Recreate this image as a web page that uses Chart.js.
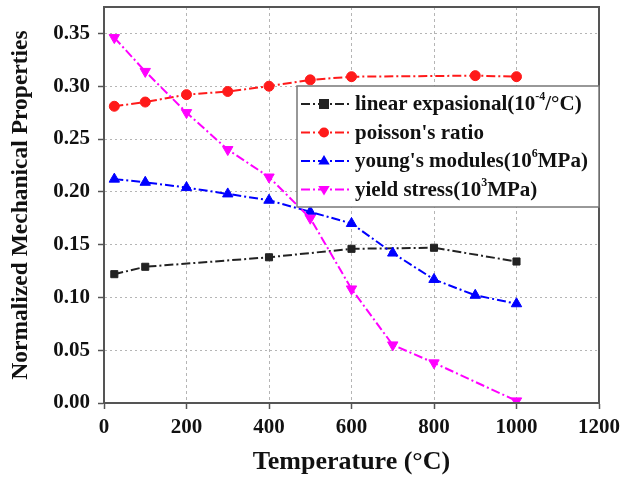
<!DOCTYPE html>
<html>
<head>
<meta charset="utf-8">
<script src="https://cdn.jsdelivr.net/npm/chart.js@4/dist/chart.umd.min.js"></script>
<style>
  html, body { margin: 0; padding: 0; background: #fff; }
  #wrap { width: 622px; height: 483px; }
</style>
</head>
<body>
<div id="wrap"><canvas id="chart" width="622" height="483"></canvas></div>
<script>
// axis ticks
const xTicks = [0, 200, 400, 600, 800, 1000, 1200];
const yTicks = [0, 0.05, 0.10, 0.15, 0.20, 0.25, 0.30, 0.35];

// linear expansion (10^-4 /°C)
const expTemp = [25, 100, 400, 600, 800, 1000];
const expVals = [0.122, 0.129, 0.138, 0.146, 0.147, 0.134];

// poisson's ratio
const poisTemp = [25, 100, 200, 300, 400, 500, 600, 900, 1000];
const poisVals = [0.281, 0.285, 0.292, 0.295, 0.300, 0.306, 0.309, 0.310, 0.309];

// young's modulus (10^6 MPa)
const youngTemp = [25, 100, 200, 300, 400, 500, 600, 700, 800, 900, 1000];
const youngVals = [0.212, 0.209, 0.204, 0.198, 0.192, 0.181, 0.170, 0.142, 0.117, 0.102, 0.094];

// yield stress (10^3 MPa)
const yieldTemp = [25, 100, 200, 300, 400, 500, 600, 700, 800, 1000];
const yieldVals = [0.346, 0.314, 0.275, 0.240, 0.214, 0.175, 0.108, 0.055, 0.038, 0.002];

// legend text, split so exponents can be raised
const legendLabels = [
  [['linear expasional(10', false], ['-4', true], ['/°C)', false]],
  [["poisson's ratio", false]],
  [["young's modules(10", false], ['6', true], ['MPa)', false]],
  [['yield stress(10', false], ['3', true], ['MPa)', false]]
];

const SERIF = '"Liberation Serif", "Times New Roman", serif';
const dashDot = [9, 3, 2, 3];

function pts(xs, ys) {
  return xs.map((x, i) => ({ x: x, y: ys[i] }));
}

function series(data, color, style, radius, rotation, order) {
  return {
    data: data,
    borderColor: color,
    backgroundColor: color,
    borderWidth: 2,
    borderDash: dashDot,
    pointStyle: style,
    pointRadius: radius,
    pointRotation: rotation,
    pointBorderWidth: 1,
    pointBorderColor: color,
    pointBackgroundColor: color,
    tension: 0,
    fill: false,
    order: order
  };
}

const datasets = [
  series(pts(expTemp, expVals), '#222222', 'rect', 5, 0, 4),
  series(pts(poisTemp, poisVals), '#ff1a1a', 'circle', 5, 0, 3),
  series(pts(youngTemp, youngVals), '#0000ff', 'triangle', 6, 0, 2),
  series(pts(yieldTemp, yieldVals), '#ff00ff', 'triangle', 6, 180, 1)
];

// frame round the plot area
const framePlugin = {
  id: 'frame',
  afterDatasetsDraw(chart) {
    const { ctx, chartArea: a } = chart;
    ctx.save();
    ctx.strokeStyle = '#555';
    ctx.lineWidth = 2;
    ctx.strokeRect(a.left, a.top, a.right - a.left, a.bottom - a.top);
    ctx.restore();
  }
};

function drawMarker(ctx, ds, x, y) {
  const r = ds.pointRadius;
  ctx.fillStyle = ds.pointBackgroundColor;
  ctx.beginPath();
  if (ds.pointStyle === 'rect') {
    ctx.rect(x - r, y - r, 2 * r, 2 * r);
  } else if (ds.pointStyle === 'circle') {
    ctx.arc(x, y, r, 0, Math.PI * 2);
  } else {
    const s = ds.pointRotation === 180 ? -1 : 1;
    ctx.moveTo(x, y - s * r);
    ctx.lineTo(x + r * 0.95, y + s * r * 0.6);
    ctx.lineTo(x - r * 0.95, y + s * r * 0.6);
    ctx.closePath();
  }
  ctx.fill();
}

// boxed legend inside the plot, upper right
const boxLegend = {
  id: 'boxLegend',
  afterDraw(chart) {
    const { ctx, chartArea: a } = chart;
    const w = 302, h = 121;
    const left = a.right - w, top = a.top + 79;
    ctx.save();
    ctx.fillStyle = '#fff';
    ctx.fillRect(left, top, w, h);
    ctx.strokeStyle = '#777';
    ctx.lineWidth = 1.5;
    ctx.strokeRect(left, top, w, h);

    chart.data.datasets.forEach((ds, i) => {
      const y = top + 18 + i * 28.5;
      ctx.strokeStyle = ds.borderColor;
      ctx.lineWidth = 2;
      ctx.setLineDash(dashDot);
      ctx.beginPath();
      ctx.moveTo(left + 4, y);
      ctx.lineTo(left + 52, y);
      ctx.stroke();
      ctx.setLineDash([]);
      drawMarker(ctx, ds, left + 27, y);

      let x = left + 58;
      ctx.fillStyle = '#111';
      ctx.textBaseline = 'middle';
      legendLabels[i].forEach(([txt, sup]) => {
        ctx.font = sup ? 'bold 12px ' + SERIF : 'bold 21px ' + SERIF;
        ctx.fillText(txt, x, sup ? y - 7 : y + 1);
        x += ctx.measureText(txt).width;
      });
    });
    ctx.restore();
  }
};

new Chart(document.getElementById('chart'), {
  type: 'line',
  data: { datasets: datasets },
  options: {
    responsive: false,
    animation: false,
    devicePixelRatio: 1,
    layout: { padding: { top: 5, right: 23, left: 0, bottom: 0 } },
    plugins: { legend: { display: false }, tooltip: { enabled: false } },
    scales: {
      x: {
        type: 'linear',
        min: 0,
        max: 1200,
        afterBuildTicks(scale) { scale.ticks = xTicks.map(v => ({ value: v })); },
        afterFit(scale) { scale.height = 80; scale.paddingLeft = 0; scale.paddingRight = 0; },
        grid: { color: '#b5b5b5', lineWidth: 1, tickLength: 6, tickColor: '#555', tickWidth: 1.5, tickBorderDash: [] },
        border: { display: true, color: '#555', width: 2, dash: [3, 3] },
        ticks: {
          padding: 6,
          color: '#111',
          font: { family: SERIF, size: 21, weight: 'bold' },
          callback: v => String(v)
        },
        title: {
          display: true,
          text: 'Temperature (°C)',
          color: '#111',
          font: { family: SERIF, size: 26, weight: 'bold' },
          padding: { top: 0, bottom: 5 }
        }
      },
      y: {
        type: 'linear',
        min: 0,
        max: 0.375,
        afterBuildTicks(scale) { scale.ticks = yTicks.map(v => ({ value: v })); },
        afterFit(scale) { scale.width = 104; scale.paddingTop = 0; scale.paddingBottom = 0; },
        grid: { color: '#b5b5b5', lineWidth: 1, tickLength: 6, tickColor: '#555', tickWidth: 1.5, tickBorderDash: [] },
        border: { display: true, color: '#555', width: 2, dash: [2, 3] },
        ticks: {
          padding: 8,
          color: '#111',
          font: { family: SERIF, size: 21, weight: 'bold' },
          callback: v => v.toFixed(2)
        },
        title: {
          display: true,
          text: 'Normalized Mechanical Properties',
          color: '#111',
          font: { family: SERIF, size: 23.5, weight: 'bold' },
          padding: { top: 7, bottom: 0 }
        }
      }
    }
  },
  plugins: [framePlugin, boxLegend]
});
</script>
</body>
</html>
